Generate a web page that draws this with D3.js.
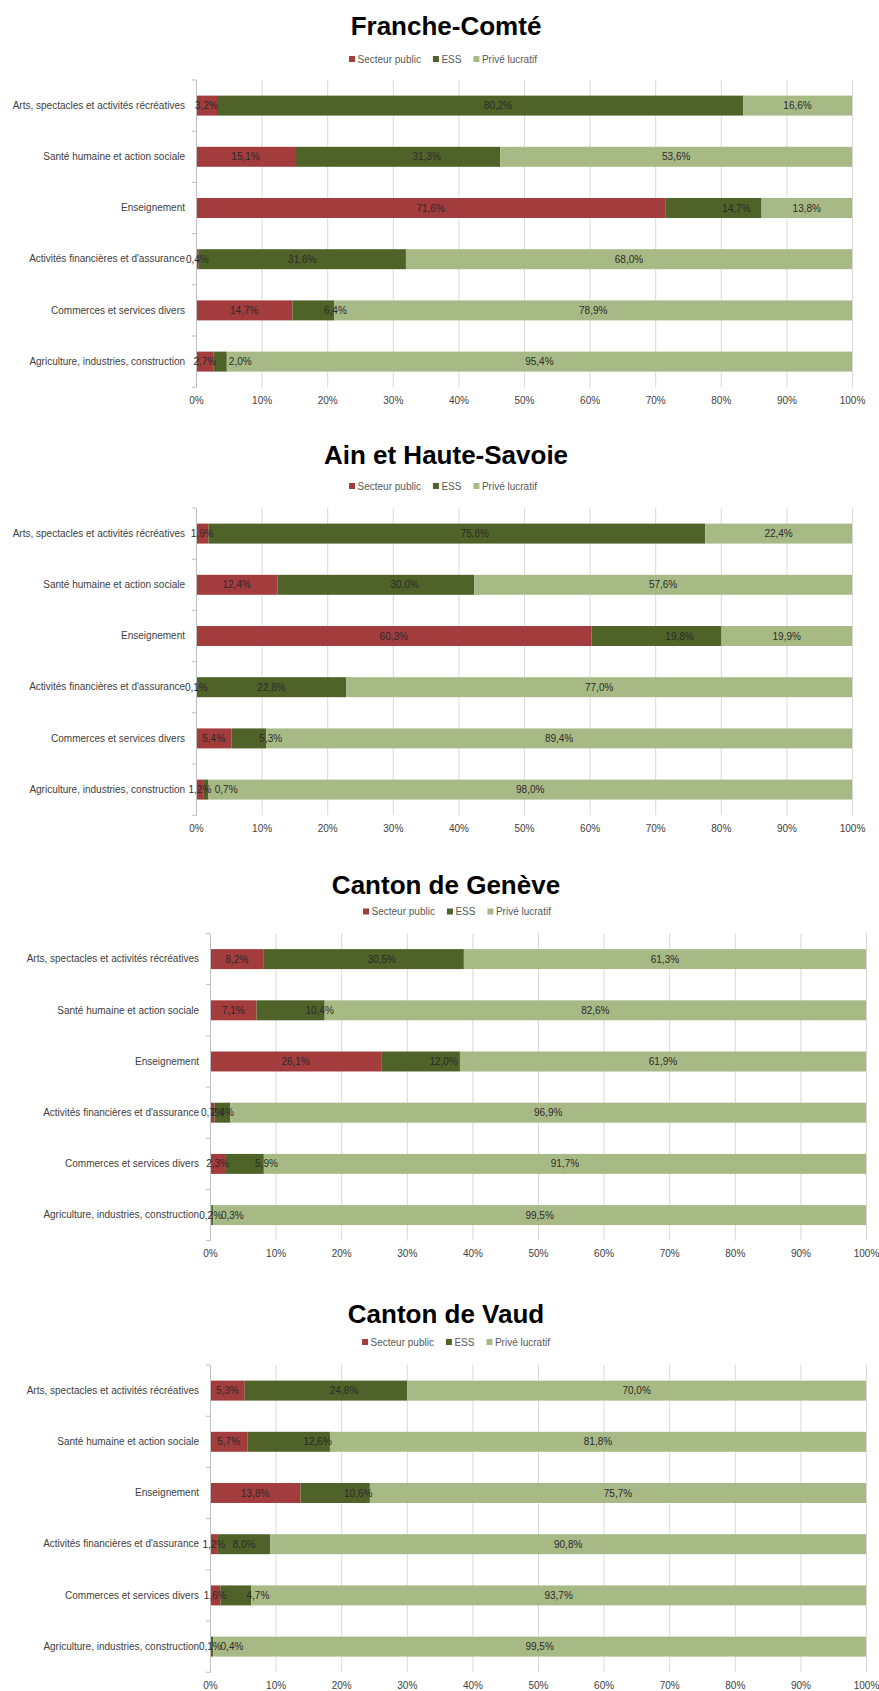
<!DOCTYPE html>
<html>
<head>
<meta charset="utf-8">
<script src="https://cdn.jsdelivr.net/npm/d3@7"></script>
<style>
  body { margin: 0; background: #ffffff; }
  svg { display: block; }
</style>
</head>
<body>
<div id="charts"></div>
<script>
// categories, top to bottom
var categories = [
  "Arts, spectacles et activités récréatives",
  "Santé humaine et action sociale",
  "Enseignement",
  "Activités financières et d'assurance",
  "Commerces et services divers",
  "Agriculture, industries, construction"
];
var seriesNames = ["Secteur public", "ESS", "Privé lucratif"];
var seriesKeys = ["public", "ess", "prive"];
var tickValues = [0, 0.1, 0.2, 0.3, 0.4, 0.5, 0.6, 0.7, 0.8, 0.9, 1];

// Franche-Comté
var fcPublic = [3.2, 15.1, 71.6, 0.4, 14.7, 2.7];
var fcEss = [80.2, 31.3, 14.7, 31.6, 6.4, 2.0];
var fcPrive = [16.6, 53.6, 13.8, 68.0, 78.9, 95.4];

// Ain et Haute-Savoie
var ainPublic = [1.9, 12.4, 60.3, 0.1, 5.4, 1.2];
var ainEss = [75.8, 30.0, 19.8, 22.8, 5.3, 0.7];
var ainPrive = [22.4, 57.6, 19.9, 77.0, 89.4, 98.0];

// Canton de Genève
var gePublic = [8.2, 7.1, 26.1, 0.7, 2.3, 0.2];
var geEss = [30.5, 10.4, 12.0, 2.4, 5.9, 0.3];
var gePrive = [61.3, 82.6, 61.9, 96.9, 91.7, 99.5];

// Canton de Vaud
var vdPublic = [5.3, 5.7, 13.8, 1.2, 1.6, 0.1];
var vdEss = [24.8, 12.6, 10.6, 8.0, 4.7, 0.4];
var vdPrive = [70.0, 81.8, 75.7, 90.8, 93.7, 99.5];

var colors = ["#a33c3c", "#4f6228", "#a7b985"];

// in the original the ESS labels sit a bit right of their segment centre
var essLabelShift = [18, 29, 23, 0, 22, 20];

// layout of the four panels
var panels = [
  { title: "Franche-Comté", values: [fcPublic, fcEss, fcPrive], top: 80, left: 196, titleY: 26, legendY: 59, legendX: 443 },
  { title: "Ain et Haute-Savoie", values: [ainPublic, ainEss, ainPrive], top: 508, left: 196, titleY: 455, legendY: 486, legendX: 443 },
  { title: "Canton de Genève", values: [gePublic, geEss, gePrive], top: 933.5, left: 210, titleY: 885, legendY: 911.5, legendX: 457 },
  { title: "Canton de Vaud", values: [vdPublic, vdEss, vdPrive], top: 1365, left: 210, titleY: 1314, legendY: 1342, legendX: 456 }
];

var plotWidth = 656,
  plotHeight = 307.2,
  font = "'Liberation Sans', Arial, sans-serif";

var svg = d3
  .select("#charts")
  .append("svg")
  .attr("width", 879)
  .attr("height", 1691)
  .style("font-family", font);

svg.append("rect").attr("width", 879).attr("height", 1691).attr("fill", "#ffffff");

var formatValue = function(v) {
  return v.toFixed(1).replace(".", ",") + "%";
};

function drawChart(p) {
  var rows = categories.map(function(c, i) {
    return { category: c, public: p.values[0][i], ess: p.values[1][i], prive: p.values[2][i] };
  });

  // 100% stacked
  var stacked = d3.stack().keys(seriesKeys).offset(d3.stackOffsetExpand)(rows);

  var x = d3.scaleLinear().domain([0, 1]).range([p.left, p.left + plotWidth]);
  var y = d3
    .scaleBand()
    .domain(categories)
    .range([p.top, p.top + plotHeight])
    .paddingInner(0.61)
    .paddingOuter(0.305);

  // title
  svg
    .append("text")
    .attr("x", 446)
    .attr("y", p.titleY)
    .attr("dy", "0.35em")
    .attr("text-anchor", "middle")
    .attr("font-weight", "bold")
    .attr("font-size", "26px")
    .attr("fill", "#000000")
    .text(p.title);

  // legend
  var legend = svg.append("g");
  var lx = 0;
  seriesNames.forEach(function(name, i) {
    legend
      .append("rect")
      .attr("x", lx)
      .attr("y", p.legendY - 3)
      .attr("width", 6)
      .attr("height", 6)
      .attr("fill", colors[i]);
    var t = legend
      .append("text")
      .attr("x", lx + 8.5)
      .attr("y", p.legendY)
      .attr("dy", "0.35em")
      .attr("font-size", "10px")
      .attr("fill", "#595959")
      .text(name);
    lx += 8.5 + t.node().getComputedTextLength() + 12;
  });
  var legendWidth = lx - 12;
  legend.attr("transform", "translate(" + (p.legendX - legendWidth / 2) + ",0)");

  // gridlines and x labels
  var xAxis = svg
    .append("g")
    .attr("transform", "translate(0," + (p.top + plotHeight) + ")")
    .call(
      d3
        .axisBottom(x)
        .tickValues(tickValues)
        .tickFormat(d3.format(".0%"))
        .tickSize(-plotHeight)
        .tickPadding(9.5)
    );
  xAxis.attr("font-family", font);
  xAxis.select(".domain").remove();
  xAxis.selectAll(".tick line").attr("stroke", "#d9d9d9");
  xAxis.selectAll(".tick text").attr("fill", "#404040").attr("font-size", "10px");

  // bars
  var layers = svg
    .append("g")
    .selectAll("g")
    .data(stacked)
    .enter()
    .append("g")
    .attr("fill", function(d, i) {
      return colors[i];
    });

  layers
    .selectAll("rect")
    .data(function(d) {
      return d;
    })
    .enter()
    .append("rect")
    .attr("x", function(d) {
      return x(d[0]);
    })
    .attr("y", function(d) {
      return y(d.data.category);
    })
    .attr("width", function(d) {
      return x(d[1]) - x(d[0]);
    })
    .attr("height", y.bandwidth());

  // y axis with category labels
  var yAxis = svg
    .append("g")
    .attr("transform", "translate(" + p.left + ",0)")
    .call(d3.axisLeft(y).tickSize(0).tickSizeOuter(0).tickPadding(11));
  yAxis.attr("font-family", font);
  yAxis.select(".domain").attr("stroke", "#bfbfbf");
  yAxis.selectAll(".tick text").attr("fill", "#404040").attr("font-size", "10px");

  // tick marks between categories
  var bounds = categories
    .map(function(c) {
      return y(c) - (y.step() - y.bandwidth()) / 2;
    })
    .concat([p.top + plotHeight]);
  svg
    .append("g")
    .selectAll("line")
    .data(bounds)
    .enter()
    .append("line")
    .attr("x1", p.left - 4)
    .attr("x2", p.left)
    .attr("y1", function(d) {
      return d;
    })
    .attr("y2", function(d) {
      return d;
    })
    .attr("stroke", "#bfbfbf");

  // data labels
  stacked.forEach(function(layer, s) {
    svg
      .append("g")
      .selectAll("text")
      .data(layer)
      .enter()
      .append("text")
      .attr("x", function(d, i) {
        var shift = s === 1 ? essLabelShift[i] : 0;
        return x((d[0] + d[1]) / 2) + shift;
      })
      .attr("y", function(d) {
        return y(d.data.category) + y.bandwidth() / 2;
      })
      .attr("dy", "0.35em")
      .attr("text-anchor", "middle")
      .attr("font-size", "10px")
      .attr("fill", "#2b2b2b")
      .text(function(d, i) {
        return formatValue(p.values[s][i]);
      });
  });
}

panels.forEach(drawChart);
</script>
</body>
</html>
